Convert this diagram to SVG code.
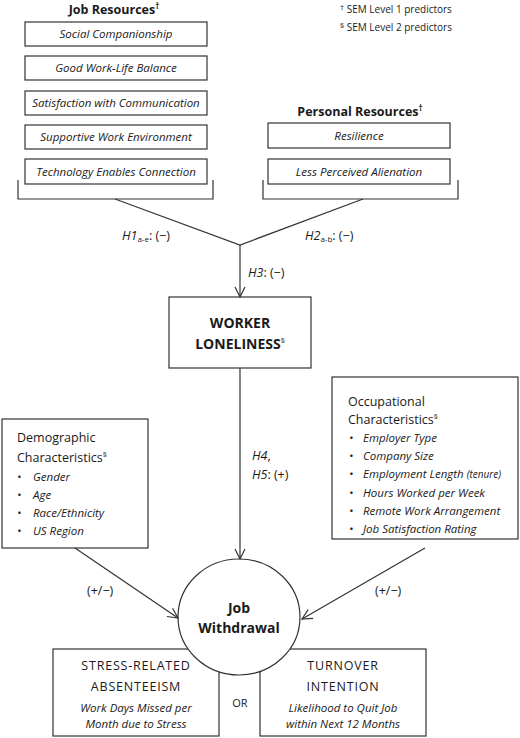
<svg xmlns="http://www.w3.org/2000/svg" width="520" height="738" viewBox="0 0 520 738">
<defs>
<style>
text{font-family:"Open Sans","Liberation Sans",sans-serif;fill:#1a1a1a}
.box{fill:#fff;stroke:#333;stroke-width:1.2}
.ln{fill:none;stroke:#333;stroke-width:1.2}
.it{font-style:italic;font-size:11.5px}
.ttl{font-weight:bold;font-size:12.5px}
.bd{font-weight:bold;font-size:14px}
.lbl{font-size:12.5px}
.lg{font-size:10px}
.cap{font-size:12.5px;letter-spacing:0.8px}
.mid{text-anchor:middle}
</style>
<marker id="arr" viewBox="0 0 12 12" refX="11" refY="6" markerWidth="12" markerHeight="12" markerUnits="userSpaceOnUse" orient="auto">
<polyline points="1,1 11,6 1,11" fill="none" stroke="#333" stroke-width="1.2"/>
</marker>
</defs>
<rect width="520" height="738" fill="#fff"/>

<g id="legend">
<text class="lg" x="340" y="13"><tspan font-size="8" dy="-3">†</tspan><tspan dy="3"> SEM Level 1 predictors</tspan></text>
<text class="lg" x="340" y="31"><tspan font-size="8" dy="-3">§</tspan><tspan dy="3"> SEM Level 2 predictors</tspan></text>
</g>

<g id="job-resources">
<text class="ttl mid" x="114" y="14">Job Resources<tspan font-size="8" dy="-5">†</tspan></text>
<rect class="box" x="25" y="22" width="182" height="24"/>
<text class="it mid" x="116" y="38">Social Companionship</text>
<rect class="box" x="25" y="56" width="182" height="24"/>
<text class="it mid" x="116" y="72">Good Work-Life Balance</text>
<rect class="box" x="25" y="91" width="182" height="24"/>
<text class="it mid" x="116" y="107">Satisfaction with Communication</text>
<rect class="box" x="25" y="125" width="182" height="24"/>
<text class="it mid" x="116" y="141">Supportive Work Environment</text>
<rect class="box" x="25" y="159" width="182" height="25"/>
<text class="it mid" x="116" y="176">Technology Enables Connection</text>
<path class="ln" d="M18,180 V199 H213 V180"/>
</g>

<g id="personal-resources">
<text class="ttl mid" x="360" y="116">Personal Resources<tspan font-size="8" dy="-5">†</tspan></text>
<rect class="box" x="268" y="123" width="182" height="25"/>
<text class="it mid" x="359" y="140">Resilience</text>
<rect class="box" x="268" y="159" width="182" height="25"/>
<text class="it mid" x="359" y="176">Less Perceived Alienation</text>
<path class="ln" d="M263,180 V199 H458 V180"/>
</g>

<g id="worker-loneliness">
<rect class="box" x="169" y="297" width="142" height="71"/>
<text class="bd mid" x="240" y="328">WORKER</text>
<text class="bd mid" x="240" y="349">LONELINESS<tspan font-size="8" dy="-6" font-weight="normal">§</tspan></text>
</g>

<g id="demographic">
<rect class="box" x="2" y="419" width="146" height="129"/>
<text class="lbl" x="17" y="442">Demographic</text>
<text class="lbl" x="17" y="462">Characteristics<tspan font-size="8" dy="-5">§</tspan></text>
<g class="it">
<text x="17" y="481">•</text><text x="33" y="481">Gender</text>
<text x="17" y="499">•</text><text x="33" y="499">Age</text>
<text x="17" y="517">•</text><text x="33" y="517">Race/Ethnicity</text>
<text x="17" y="535">•</text><text x="33" y="535">US Region</text>
</g>
</g>

<g id="occupational">
<rect class="box" x="332" y="377" width="186" height="162"/>
<text class="lbl" x="348" y="406">Occupational</text>
<text class="lbl" x="348" y="424">Characteristics<tspan font-size="8" dy="-5">§</tspan></text>
<g class="it">
<text x="349" y="442">•</text><text x="363" y="442">Employer Type</text>
<text x="349" y="460">•</text><text x="363" y="460">Company Size</text>
<text x="349" y="478">•</text><text x="363" y="478">Employment Length <tspan font-size="10">(tenure)</tspan></text>
<text x="349" y="497">•</text><text x="363" y="497">Hours Worked per Week</text>
<text x="349" y="515">•</text><text x="363" y="515">Remote Work Arrangement</text>
<text x="349" y="533">•</text><text x="363" y="533">Job Satisfaction Rating</text>
</g>
</g>

<g id="absenteeism">
<rect class="box" x="53" y="649" width="166" height="87"/>
<text class="cap mid" x="136" y="670">STRESS-RELATED</text>
<text class="cap mid" x="136" y="691">ABSENTEEISM</text>
<text class="it mid" x="136" y="712">Work Days Missed per</text>
<text class="it mid" x="136" y="728">Month due to Stress</text>
</g>

<g id="turnover">
<rect class="box" x="260" y="649" width="166" height="87"/>
<text class="cap mid" x="343" y="670">TURNOVER</text>
<text class="cap mid" x="343" y="691">INTENTION</text>
<text class="it mid" x="343" y="712">Likelihood to Quit Job</text>
<text class="it mid" x="343" y="728">within Next 12 Months</text>
</g>

<g id="or-label">
<text class="mid" x="240" y="707" font-size="11">OR</text>
</g>

<g id="job-withdrawal">
<ellipse class="box" cx="239" cy="617" rx="61" ry="58"/>
<text class="bd mid" x="239" y="613">Job</text>
<text class="bd mid" x="239" y="633">Withdrawal</text>
</g>

<g id="connectors">
<polyline class="ln" points="115,199 240,245 363,199"/>
<line class="ln" x1="240" y1="245" x2="240" y2="297" marker-end="url(#arr)"/>
<line class="ln" x1="240" y1="368" x2="240" y2="559" marker-end="url(#arr)"/>
<line class="ln" x1="75" y1="548" x2="178" y2="618" marker-end="url(#arr)"/>
<line class="ln" x1="425" y1="548" x2="302" y2="619" marker-end="url(#arr)"/>
</g>

<g id="connector-labels">
<text class="lbl" x="122" y="240"><tspan font-style="italic">H1</tspan><tspan font-size="8" dy="2">a-e</tspan><tspan dy="-2">: (−)</tspan></text>
<text class="lbl" x="305" y="240"><tspan font-style="italic">H2</tspan><tspan font-size="8" dy="2">a-b</tspan><tspan dy="-2">: (−)</tspan></text>
<text class="lbl" x="248" y="277"><tspan font-style="italic">H3</tspan>: (−)</text>
<text class="lbl" x="252" y="460"><tspan font-style="italic">H4</tspan>,</text>
<text class="lbl" x="252" y="479"><tspan font-style="italic">H5</tspan>: (+)</text>
<text class="lbl" x="87" y="595" font-size="11">(+/−)</text>
<text class="lbl" x="375" y="595" font-size="11">(+/−)</text>
</g>
</svg>
